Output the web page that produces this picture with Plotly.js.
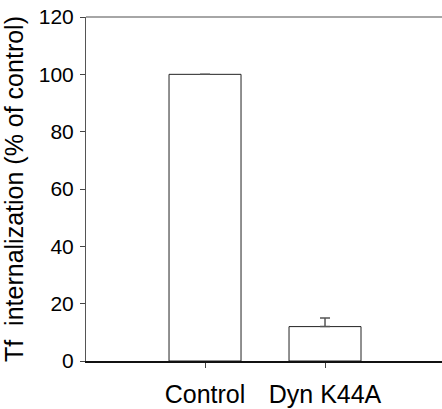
<!DOCTYPE html>
<html>
<head>
<meta charset="utf-8">
<script src="https://cdn.plot.ly/plotly-3.0.1.min.js"></script>
<style>
html,body{margin:0;padding:0;background:#fff;}
#chart{width:442px;height:409px;}
</style>
</head>
<body>
<div id="chart"></div>
<script>
const categories = ["Control", "Dyn K44A"];
const values = [100, 12];
const errorsUp = [0, 3];
const yTickVals = [0, 20, 40, 60, 80, 100, 120];

const trace = {
  type: "bar",
  x: [0, 1],
  y: values,
  width: 0.6,
  marker: {color: "#ffffff", line: {color: "#222222", width: 1}},
  error_y: {type: "data", symmetric: false, array: errorsUp, arrayminus: [0, 0],
            color: "#555555", thickness: 1.5, width: 5},
  hoverinfo: "none"
};

const layout = {
  width: 442, height: 409,
  margin: {l: 86, r: 0, t: 17, b: 48},
  paper_bgcolor: "#ffffff", plot_bgcolor: "#ffffff",
  showlegend: false,
  font: {family: "Liberation Sans, Arial, sans-serif", color: "#000"},
  xaxis: {
    range: [-0.992, 1.975],
    tickvals: [0, 1], ticktext: categories,
    ticks: "outside", ticklen: 5, tickcolor: "#444", tickwidth: 1,
    tickfont: {size: 25, family: "Liberation Sans, Arial, sans-serif"},
    ticklabelstandoff: 5,
    showline: true, linecolor: "#111", linewidth: 1.5,
    showgrid: false, zeroline: false, fixedrange: true
  },
  yaxis: {
    range: [0, 120],
    tickvals: yTickVals,
    ticks: "outside", ticklen: 5, tickcolor: "#444", tickwidth: 1,
    tickfont: {size: 21, family: "Liberation Sans Narrow, Liberation Sans, Arial, sans-serif"},
    ticklabelstandoff: 2,
    showline: true, linecolor: "#555", linewidth: 1,
    showgrid: false, zeroline: false, fixedrange: true,
    title: {text: "Tf  internalization (% of control)", standoff: 8,
            font: {size: 25, family: "Liberation Sans, Arial, sans-serif"}}
  },
  shapes: [{type: "line", xref: "paper", yref: "paper", x0: 0, x1: 1, y0: 1, y1: 1,
            line: {color: "#888", width: 1.5}}]
};

Plotly.newPlot("chart", [trace], layout, {staticPlot: true, displayModeBar: false});
</script>
</body>
</html>
